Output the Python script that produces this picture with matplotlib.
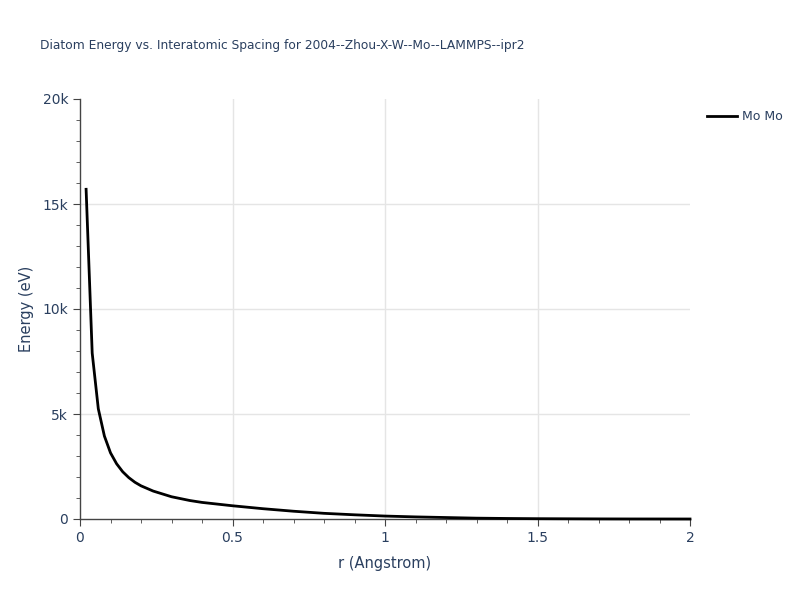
import matplotlib
matplotlib.use("Agg")
import matplotlib.pyplot as plt
from matplotlib.ticker import MultipleLocator, FuncFormatter

r = [0.02, 0.04, 0.06, 0.08, 0.10, 0.12, 0.14, 0.16, 0.18, 0.20, 0.24, 0.30, 0.36, 0.40,
     0.50, 0.60, 0.70, 0.80, 0.90, 1.00, 1.10, 1.20, 1.30, 1.40, 1.50, 1.60, 1.70, 1.80, 1.90, 2.00]
energy = [15700, 7900, 5250, 3950, 3150, 2630, 2250, 1970, 1750, 1580, 1330, 1060, 880, 790,
          630, 490, 370, 270, 200, 140, 100, 70, 40, 25, 15, 10, 5, 2, 1, 0]
series_name = "Mo Mo"
title = "Diatom Energy vs. Interatomic Spacing for 2004--Zhou-X-W--Mo--LAMMPS--ipr2"

txt = "#2a3f5f"
fig = plt.figure(figsize=(8, 6), dpi=100)
ax = fig.add_axes([0.1, 0.135, 0.7625, 0.7])
for gx in [0.5, 1.0, 1.5]:
    ax.axvline(gx, color="#e5e5e5", lw=1, zorder=0)
for gy in [5000, 10000, 15000]:
    ax.axhline(gy, color="#e5e5e5", lw=1, zorder=0)
ax.plot(r, energy, color="black", lw=2, label=series_name, clip_on=False, zorder=3)
ax.set_xlim(0, 2)
ax.set_ylim(0, 20000)
ax.xaxis.set_major_locator(MultipleLocator(0.5))
ax.xaxis.set_minor_locator(MultipleLocator(0.1))
ax.yaxis.set_major_locator(MultipleLocator(5000))
ax.yaxis.set_minor_locator(MultipleLocator(1000))
ax.xaxis.set_major_formatter(FuncFormatter(lambda v, p: f"{v:g}"))
ax.yaxis.set_major_formatter(FuncFormatter(lambda v, p: "0" if v == 0 else f"{v/1000:g}k"))
for s in ["top", "right"]:
    ax.spines[s].set_visible(False)
for s in ["left", "bottom"]:
    ax.spines[s].set_color("#444444")
    ax.spines[s].set_linewidth(1)
ax.tick_params(which="major", length=5, color="#444444", labelcolor=txt, labelsize=10)
ax.tick_params(which="minor", length=3, color="#444444")
ax.set_xlabel("r (Angstrom)", color=txt, fontsize=10.5, labelpad=8)
ax.set_ylabel("Energy (eV)", color=txt, fontsize=10.5, labelpad=6)
fig.text(0.05, 0.925, title, color=txt, fontsize=8.8, ha="left", va="center")
ax.legend(loc="upper left", bbox_to_anchor=(1.01, 1.0), frameon=False, fontsize=9,
          labelcolor=txt, handlelength=2.4, handletextpad=0.4)
fig.savefig("out.png", dpi=100)
